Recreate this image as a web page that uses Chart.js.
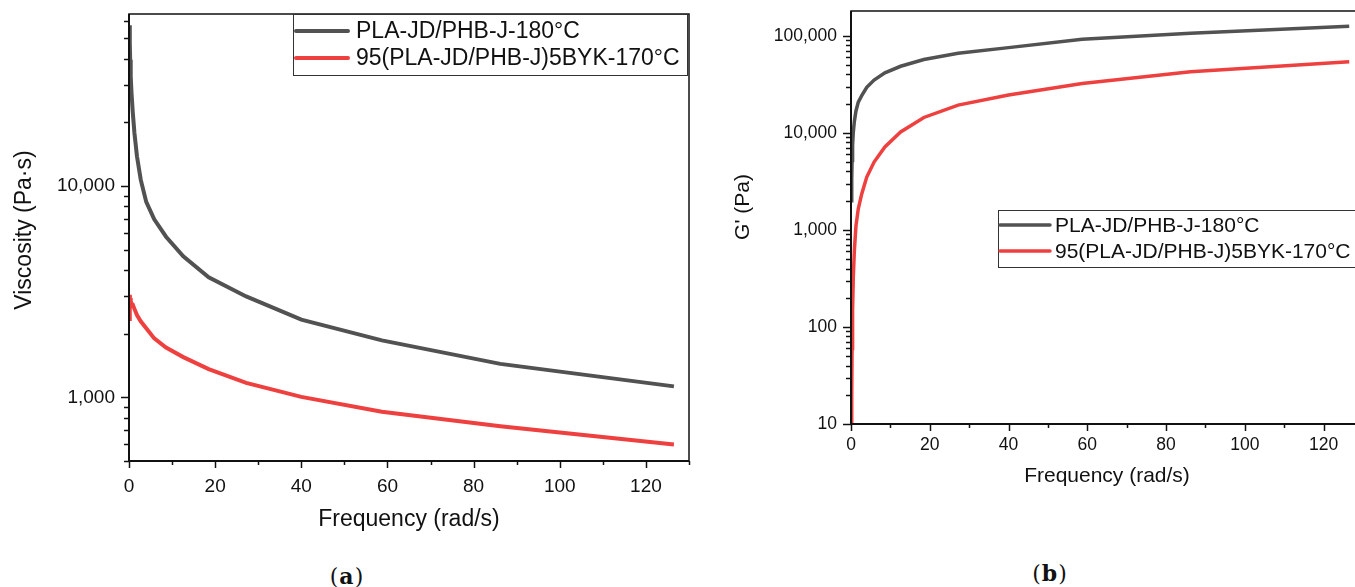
<!DOCTYPE html>
<html>
<head>
<meta charset="utf-8">
<script src="https://cdn.jsdelivr.net/npm/chart.js@4.4.0/dist/chart.umd.min.js"></script>
<style>
  html, body { margin: 0; padding: 0; background: #fff; }
  body { width: 1355px; height: 587px; overflow: hidden; position: relative; }
  .box { position: absolute; }
  .tag { position: absolute; font: 22px 'DejaVu Serif', 'Liberation Serif', serif; color: #111; letter-spacing: 1px; transform: translate(-50%, -50%); }
  .tag b { font-weight: bold; }
</style>
</head>
<body>
<div class="box" style="left:0;top:0;width:700px;height:545px"><canvas id="viscChart"></canvas></div>
<div class="box" style="left:700px;top:0;width:675px;height:500px"><canvas id="modChart"></canvas></div>
<div class="tag" style="left:347px;top:576px">(<b>a</b>)</div>
<div class="tag" style="left:1050px;top:573px">(<b>b</b>)</div>
<script>
// angular frequency (rad/s), same sweep for every series
const freq = [0.126, 0.185, 0.272, 0.4, 0.586, 0.86, 1.26, 1.85, 2.72, 4.0, 5.86, 8.6, 12.6, 18.5, 27.2, 40.0, 58.7, 86.2, 126.5];

// (a) complex viscosity, Pa·s
const viscNeat = [57500, 47500, 39500, 33000, 27500, 22500, 17800, 13800, 10700, 8400, 6950, 5750, 4650, 3700, 3000, 2330, 1860, 1440, 1127];
const viscBYK = [2350, 3050, 2950, 2850, 2780, 2750, 2620, 2450, 2290, 2120, 1900, 1720, 1550, 1360, 1170, 1005, 855, 730, 598];

// (b) storage modulus G', Pa
const gNeat = [2000, 3400, 5200, 7500, 10200, 13200, 16800, 20700, 24200, 29500, 35000, 41500, 48500, 57000, 66000, 75500, 92000, 106000, 125000];
const gBYK = [6, 20, 60, 150, 330, 620, 1100, 1650, 2350, 3500, 5000, 7150, 10200, 14400, 19300, 24500, 32300, 42500, 54000];

const seriesNames = ['PLA-JD/PHB-J-180°C', '95(PLA-JD/PHB-J)5BYK-170°C'];
const xLabels = [0, 20, 40, 60, 80, 100, 120];
const yLabelsA = [1000, 10000];
const yLabelsB = [10, 100, 1000, 10000, 100000];

const FONT = "'Liberation Sans', Arial, sans-serif";
const GREY = '#525252';
const RED = '#ef4040';
Chart.defaults.font.family = FONT;
Chart.defaults.color = '#111';

function logTicks(min, max) {
    const out = [];
    for (let e = Math.floor(Math.log10(min)); Math.pow(10, e) <= max; e++) {
        for (let m = 1; m <= 9; m++) {
            const v = m * Math.pow(10, e);
            if (v >= min && v <= max) out.push(v);
        }
    }
    return out;
}
const xAll = [];
for (let v = 0; v <= 130; v += 10) xAll.push(v);

const points = (ys) => freq.map((f, i) => ({ x: f, y: ys[i] }));

// outward tick marks, box frame and the rotated y title
const frame = {
    id: 'frame',
    afterDraw(chart, args, o) {
        const { ctx, chartArea: a } = chart;
        const x = chart.scales.x, y = chart.scales.y;
        ctx.save();
        ctx.strokeStyle = '#111';
        ctx.lineWidth = 1.5;
        x.ticks.forEach(t => {
            const px = Math.round(x.getPixelForValue(t.value)) + 0.5;
            const len = xLabels.includes(t.value) ? 7 : 4;
            ctx.beginPath(); ctx.moveTo(px, a.bottom); ctx.lineTo(px, a.bottom + len); ctx.stroke();
        });
        y.ticks.forEach(t => {
            const py = Math.round(y.getPixelForValue(t.value)) + 0.5;
            const len = o.yMajor.includes(t.value) ? 8 : 5;
            ctx.beginPath(); ctx.moveTo(a.left, py); ctx.lineTo(a.left - len, py); ctx.stroke();
        });
        ctx.strokeRect(a.left, a.top, a.right - a.left, a.bottom - a.top);
        ctx.lineWidth = 2;
        ctx.beginPath();
        ctx.moveTo(a.left, a.top); ctx.lineTo(a.left, a.bottom); ctx.lineTo(a.right, a.bottom);
        ctx.stroke();

        // y title, a little above the axis centre as in the figure
        ctx.translate(o.titleX, o.titleY);
        ctx.rotate(-Math.PI / 2);
        ctx.font = o.titleSize + 'px ' + FONT;
        ctx.fillStyle = '#111';
        ctx.textAlign = 'center';
        ctx.textBaseline = 'middle';
        ctx.fillText(o.title, 0, 0);
        ctx.restore();
    }
};

// boxed legend inside the plot
const boxLegend = {
    id: 'boxLegend',
    afterDraw(chart, args, o) {
        const ctx = chart.ctx;
        ctx.save();
        ctx.fillStyle = '#fff';
        ctx.fillRect(o.x, o.y, o.w, o.h);
        ctx.strokeStyle = '#333';
        ctx.lineWidth = 1;
        ctx.strokeRect(o.x + 0.5, o.y + 0.5, o.w, o.h);
        ctx.font = o.size + 'px ' + FONT;
        ctx.textBaseline = 'middle';
        chart.data.datasets.forEach((ds, i) => {
            const yy = o.y + o.first + i * o.gap;
            ctx.strokeStyle = ds.borderColor;
            ctx.lineWidth = ds.borderWidth;
            ctx.lineCap = 'round';
            ctx.beginPath(); ctx.moveTo(o.x + o.l0, yy); ctx.lineTo(o.x + o.l1, yy); ctx.stroke();
            ctx.fillStyle = '#111';
            ctx.fillText(ds.label, o.x + o.tx, yy + 1);
        });
        ctx.restore();
    }
};

function makeChart(id, s) {
    const ctx = document.getElementById(id).getContext('2d');
    return new Chart(ctx, {
        type: 'line',
        data: {
            datasets: [
                { label: seriesNames[0], data: points(s.neat), borderColor: GREY, borderWidth: s.lw, pointRadius: 0, clip: 0 },
                { label: seriesNames[1], data: points(s.byk), borderColor: RED, borderWidth: s.lw, pointRadius: 0, clip: 0 }
            ]
        },
        options: {
            responsive: true,
            maintainAspectRatio: false,
            animation: false,
            layout: { padding: { top: s.top, right: s.right } },
            plugins: {
                legend: { display: false },
                tooltip: { enabled: false },
                frame: { yMajor: s.yMajor, title: s.yTitle, titleX: s.yTitleX, titleY: s.yTitleY, titleSize: s.title },
                boxLegend: s.legend
            },
            scales: {
                x: {
                    type: 'linear',
                    min: 0,
                    max: 130,
                    afterBuildTicks: (sc) => { sc.ticks = xAll.map(v => ({ value: v })); },
                    afterFit: (sc) => { sc.height = s.xH; sc.paddingLeft = 0; sc.paddingRight = 0; },
                    grid: { display: false, drawTicks: false },
                    border: { display: false },
                    ticks: {
                        autoSkip: false, maxRotation: 0, padding: s.xPad,
                        font: { size: s.tick },
                        callback: (v) => xLabels.includes(v) ? String(v) : ''
                    },
                    title: { display: true, text: 'Frequency (rad/s)', font: { size: s.title }, padding: { bottom: s.xTitlePad } }
                },
                y: {
                    type: 'logarithmic',
                    min: s.yMin,
                    max: s.yMax,
                    afterBuildTicks: (sc) => { sc.ticks = logTicks(s.yMin, s.yMax).map(v => ({ value: v })); },
                    afterFit: (sc) => { sc.width = s.yW; sc.paddingTop = 0; sc.paddingBottom = 0; },
                    grid: { display: false, drawTicks: false },
                    border: { display: false },
                    ticks: {
                        autoSkip: false, padding: 14,
                        font: { size: s.tick },
                        callback: (v) => s.yMajor.includes(v) ? v.toLocaleString('en-US') : ''
                    }
                }
            }
        },
        plugins: [frame, boxLegend]
    });
}

document.addEventListener('DOMContentLoaded', () => {
    makeChart('viscChart', {
        neat: viscNeat, byk: viscBYK, lw: 4,
        yMin: 500, yMax: 65000, yMajor: yLabelsA,
        yTitle: 'Viscosity (Pa·s)', yTitleX: 25, yTitleY: 230,
        top: 14, right: 11, yW: 129, xH: 84,
        tick: 19, title: 23, xPad: 14, xTitlePad: 12,
        legend: { x: 293, y: 14, w: 394, h: 61, first: 17, gap: 27, l0: 3, l1: 55, tx: 63, size: 23 }
    });
    makeChart('modChart', {
        neat: gNeat, byk: gBYK, lw: 3.5,
        yMin: 10, yMax: 180000, yMajor: yLabelsB,
        yTitle: "G' (Pa)", yTitleX: 43, yTitleY: 207,
        top: 11, right: 12, yW: 151, xH: 76,
        tick: 17.5, title: 21, xPad: 11, xTitlePad: 11,
        legend: { x: 298, y: 210, w: 400, h: 57, first: 15, gap: 26, l0: 2, l1: 52, tx: 57, size: 21 }
    });
});
</script>
</body>
</html>
